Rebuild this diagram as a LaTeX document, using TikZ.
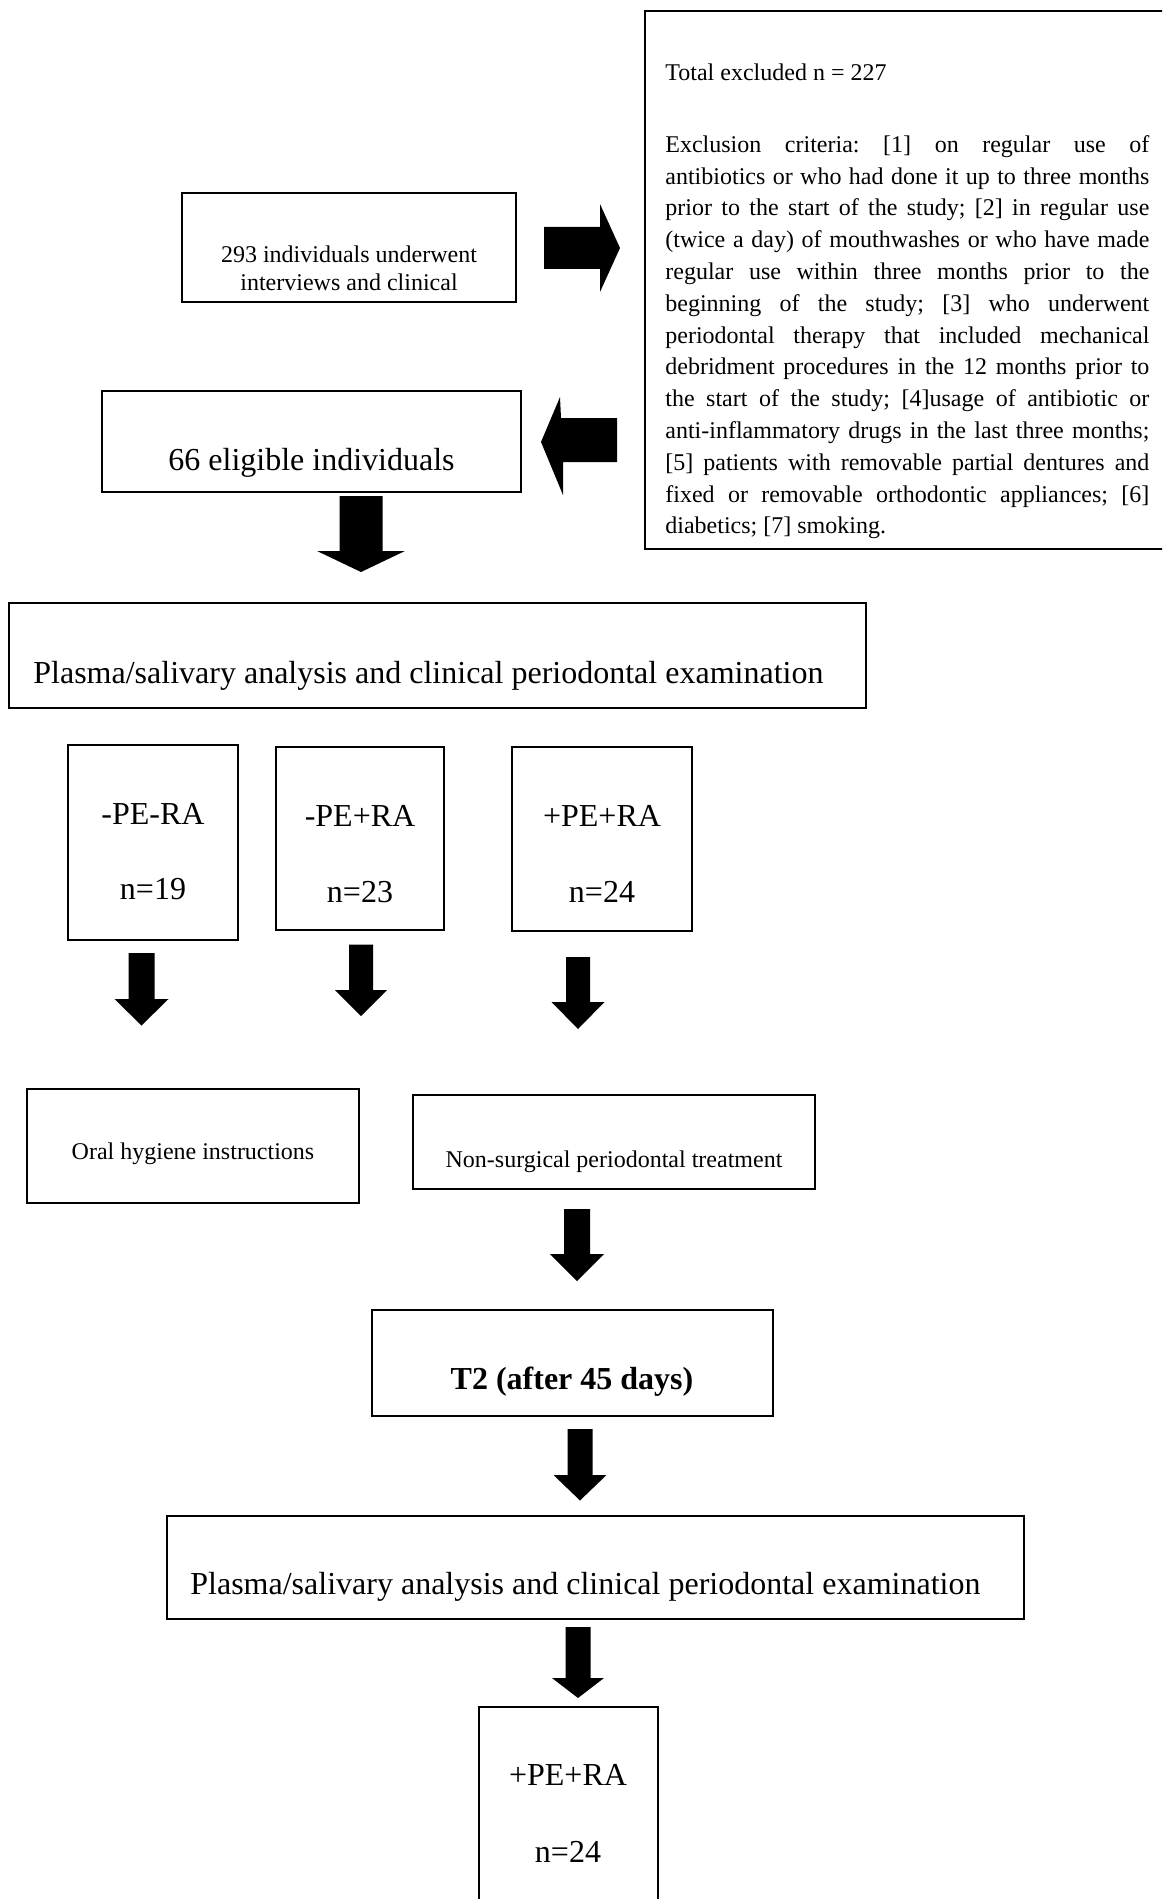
\documentclass[tikz,border=0pt]{standalone}
\usepackage{fontspec}
\setmainfont{Liberation Serif}
\usetikzlibrary{fit}
% block arrow pointing down: x, top, neck, tip, half shaft, half head
\newcommand{\arrowdown}[6]{%
  \fill (#1-#5,#2) -- (#1+#5,#2) -- (#1+#5,#3) -- (#1+#6,#3) -- (#1,#4)
    -- (#1-#6,#3) -- (#1-#5,#3) -- cycle;}
\frenchspacing
\tikzset{
  box/.style={draw, line width=.7pt, inner sep=0pt},
  small/.style={font=\fontsize{12}{14}\selectfont, inner sep=0pt},
  big/.style={font=\fontsize{16}{19}\selectfont, inner sep=0pt},
}

\begin{document}
\begin{tikzpicture}[x=.5pt, y=-.5pt]
  \useasboundingbox (0,0) rectangle (1162,1899);
  \clip (0,0) rectangle (1162,1899);

  %% exclusion criteria, right hand box
  \node (excl) [box, line width=1.1pt, fit={(645,11) (1175,549)}] {};
  \node (excltot) [small, anchor=base west] at (665,81) {Total excluded n = 227};
  \node (exclcrit) [small, anchor=north west, text width=242pt, align=justify,
    font=\fontsize{12}{15.9}\selectfont]
    at (665,135) {\tolerance=10000\hyphenpenalty=10000\frenchspacing\relax
    Exclusion criteria: [1] on regular use of\linebreak{}
    antibiotics or who had done it up to three months\linebreak{}
    prior to the start of the study; [2] in regular use\linebreak{}
    (twice a day) of mouthwashes or who have made\linebreak{}
    regular use within three months prior to the\linebreak{}
    beginning of the study; [3] who underwent\linebreak{}
    periodontal therapy that included mechanical\linebreak{}
    debridment procedures in the 12 months prior to\linebreak{}
    the start of the study; [4]usage of antibiotic or\linebreak{}
    anti-inflammatory drugs in the last three months;\linebreak{}
    [5] patients with removable partial dentures and\linebreak{}
    fixed or removable orthodontic appliances; [6]\linebreak{}
    diabetics; [7] smoking.};

  %% screened and eligible
  \node (intv) [box, fit={(182,193) (516,302)}] {};
  \node (intvtxta) [small, anchor=base] at (349,263) {293 individuals underwent};
  \node (intvtxtb) [small, anchor=base] at (349,291) {interviews and clinical};
  \node (elig) [box, fit={(102,391) (521,492)}] {};
  \node (eligtxt) [big, anchor=base west] at (168,470) {66 eligible individuals};
  \fill (544,227) -- (600,227) -- (600,204) -- (620,248) -- (600,292) -- (600,269)
    -- (544,269) -- cycle;
  \fill (617,418) -- (561,418) -- (560,397) -- (541,442) -- (563,495) -- (563,462)
    -- (617,462) -- cycle;
  \arrowdown{361}{496}{551}{572}{21.5}{44}

  %% baseline examination and groups
  \node (exama) [box, fit={(9,603) (866,708)}] {};
  \node (examatxt) [big, anchor=base west] at (33,683)
    {Plasma/salivary analysis and clinical periodontal examination};
  \node (grpa) [box, fit={(68,745) (238,940)}] {};
  \node (grpalab) [big, anchor=base] at (153,824) {-PE-RA};
  \node (grpan) [big, anchor=base] at (153,899) {n=19};
  \node (grpb) [box, fit={(276,747) (444,930)}] {};
  \node (grpblab) [big, anchor=base] at (360,826) {-PE+RA};
  \node (grpbn) [big, anchor=base] at (360,902) {n=23};
  \node (grpc) [box, fit={(512,747) (692,931)}] {};
  \node (grpclab) [big, anchor=base] at (602,826) {+PE+RA};
  \node (grpcn) [big, anchor=base] at (602,902) {n=24};
  \arrowdown{141.5}{953}{999}{1025.5}{13}{27}
  \arrowdown{361}{944.5}{990}{1016}{12}{26}
  \arrowdown{578}{957}{1002}{1029}{12}{26.5}

  %% treatment
  \node (hyg) [box, fit={(27,1089) (359,1203)}] {};
  \node (hygtxt) [small, anchor=base] at (193,1159) {Oral hygiene instructions};
  \node (treat) [box, fit={(413,1095) (815,1189)}] {};
  \node (treattxt) [small, anchor=base] at (614,1167) {Non-surgical periodontal treatment};
  \arrowdown{577}{1209}{1254}{1281}{13}{27}

  %% follow up
  \node (tfol) [box, fit={(372,1310) (773,1416)}] {};
  \node (tfoltxt) [big, anchor=base, font=\fontsize{16}{19}\selectfont\bfseries]
    at (572,1389) {T2 (after 45 days)};
  \arrowdown{580}{1429}{1475}{1500.5}{12.5}{26.5}
  \node (examb) [box, fit={(167,1516) (1024,1619)}] {};
  \node (exambtxt) [big, anchor=base west] at (190,1594)
    {Plasma/salivary analysis and clinical periodontal examination};
  \arrowdown{578}{1627}{1678}{1698}{12.5}{26}
  \node (final) [box, fit={(479,1707) (658,1915)}] {};
  \node (finallab) [big, anchor=base] at (568,1785) {+PE+RA};
  \node (finaln) [big, anchor=base] at (568,1862) {n=24};
\end{tikzpicture}
\end{document}
